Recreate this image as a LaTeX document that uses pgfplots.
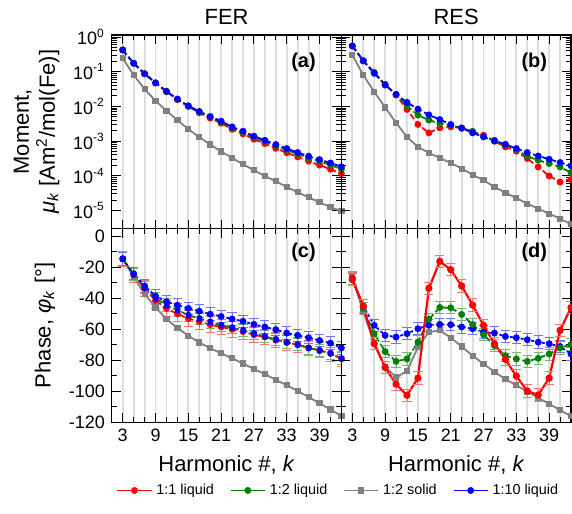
\documentclass[border=0pt]{standalone}
\usepackage{fontspec}
\setmainfont{Liberation Sans}
\usepackage{pgfplots}
\pgfplotsset{compat=1.18}
\usetikzlibrary{calc}
\definecolor{cred}{HTML}{FF0000}
\definecolor{cgreen}{HTML}{008000}
\definecolor{cgrey}{HTML}{808080}
\definecolor{cblue}{HTML}{0000FF}
\tikzset{plab/.style={font=\fontsize{10}{11}\selectfont\bfseries},
  ptitle/.style={font=\fontsize{11}{13}\selectfont, anchor=base, inner sep=0pt}}
\pgfplotsset{
  panel/.style={
    scale only axis, width=115pt, height=97pt,
    xmin=1, xmax=43,
    xtick={3,9,...,39},
    minor xtick={5,7,11,13,17,19,23,25,29,31,35,37,41},
    xmajorgrids, xminorgrids,
    major grid style={black!13, line width=0.9pt},
    minor grid style={black!13, line width=0.9pt},
    major tick length=4.5pt, minor tick length=2.5pt,
    tick style={black, line width=0.5pt},
    axis line style={line width=0.6pt},
    tick label style={font=\fontsize{9}{10}\selectfont},
    label style={font=\fontsize{11}{13}\selectfont},
    /pgf/number format/assume math mode=true,
  },
  toprow/.style={panel, ymin=3e-6, ymax=1.15,
    ytick={1e-5,1e-4,1e-3,1e-2,1e-1,1},
    xticklabels={}},
  botrow/.style={panel, ymin=-120, ymax=5,
    ytick={-120,-100,...,0}, minor y tick num=1,
    xlabel={Harmonic \#, \textit{k}}},
  sred/.style={color=cred, line width=0.9pt, mark=*, mark size=1.25pt, mark options={solid}},
  sgreen/.style={color=cgreen, line width=0.9pt, mark=*, mark size=1.25pt, mark options={solid}},
  sgrey/.style={color=cgrey, line width=0.9pt, mark=square*, mark size=1.1pt, mark options={solid}},
  sblue/.style={color=cblue, line width=0.9pt, mark=*, mark size=1.25pt, mark options={solid}},
  dsh/.style={dash pattern=on 3pt off 1.5pt},
  dtt/.style={dash pattern=on 1.5pt off 1.2pt},
  eb/.style 2 args={error bars/.cd, y dir=both, y fixed=#1,
    error bar style={color=#2!55, line width=0.5pt, solid},
    error mark options={rotate=90, color=#2!55, mark size=2.3pt, line width=0.5pt, solid}},
}
\begin{document}
\begin{tikzpicture}

% (a) FER moment
\begin{semilogyaxis}[toprow, name=a, at={(0,0)}, anchor=north west,
  yticklabels={10\textsuperscript{-5},10\textsuperscript{-4},10\textsuperscript{-3},10\textsuperscript{-2},10\textsuperscript{-1},10\textsuperscript{0}},
  ylabel={Moment,\\\textit{μ}\textsubscript{\textit{k}} [Am\textsuperscript{2}/mol(Fe)]},
  ylabel style={align=center}]
\addplot[sgrey] coordinates {(3,0.244) (5,0.0803) (7,0.0316) (9,0.0145) (11,0.00746) (13,0.00402) (15,0.00221) (17,0.0013) (19,0.000798) (21,0.0005) (23,0.000327) (25,0.000215) (27,0.000144) (29,9.86e-5) (31,6.93e-5) (33,4.74e-5) (35,3.33e-5) (37,2.39e-5) (39,1.71e-5) (41,1.25e-5) (43,9.5e-6)};
\addplot[sred, dsh] coordinates {(3,0.424) (5,0.175) (7,0.0875) (9,0.047) (11,0.0265) (13,0.0157) (15,0.00993) (17,0.00653) (19,0.00458) (21,0.00327) (23,0.00219) (25,0.00161) (27,0.00113) (29,0.000843) (31,0.000619) (33,0.000463) (35,0.000348) (37,0.000265) (39,0.000203) (41,0.000155) (43,0.000115)};
\addplot[sgreen, dsh] coordinates {(3,0.424) (5,0.175) (7,0.0875) (9,0.048) (11,0.0272) (13,0.0161) (15,0.0102) (17,0.00692) (19,0.00491) (21,0.00359) (23,0.00243) (25,0.0018) (27,0.00129) (29,0.00098) (31,0.000728) (33,0.000557) (35,0.000423) (37,0.000327) (39,0.000259) (41,0.000204) (43,0.000155)};
\addplot[sblue, dsh] coordinates {(3,0.424) (5,0.175) (7,0.0875) (9,0.048) (11,0.0272) (13,0.0163) (15,0.0104) (17,0.00716) (19,0.00514) (21,0.00376) (23,0.00257) (25,0.00193) (27,0.00139) (29,0.00106) (31,0.000798) (33,0.000611) (35,0.000469) (37,0.000366) (39,0.000294) (41,0.000234) (43,0.000182)};
\node[plab] at (rel axis cs:0.835,0.86) {(a)};
\end{semilogyaxis}

% (b) RES moment
\begin{semilogyaxis}[toprow, name=b, at={(a.north east)}, anchor=north west, yticklabels={}]
\addplot[sgrey] coordinates {(3,0.304) (5,0.0803) (7,0.0264) (9,0.00935) (11,0.00336) (13,0.00132) (15,0.000679) (17,0.000456) (19,0.000327) (21,0.000234) (23,0.000161) (25,0.000108) (27,7.41e-5) (29,4.74e-5) (31,3.27e-5) (33,2.28e-5) (35,1.57e-5) (37,1.13e-5) (39,8.08e-6) (41,5.8e-6) (43,4.0e-6)};
\addplot[sred, dsh] coordinates {(3,0.553) (5,0.21) (7,0.095) (9,0.043) (11,0.0212) (13,0.00819) (15,0.00302) (17,0.00173) (19,0.00241) (21,0.00257) (23,0.00241) (25,0.00185) (27,0.00148) (29,0.000993) (31,0.000679) (33,0.000511) (35,0.000314) (37,0.000179) (39,0.000099) (41,0.000066) (43,0.000079)};
\addplot[sgreen, dsh] coordinates {(3,0.553) (5,0.21) (7,0.095) (9,0.043) (11,0.0222) (13,0.0102) (15,0.00561) (17,0.00402) (19,0.00323) (21,0.00288) (23,0.00236) (25,0.00193) (27,0.00139) (29,0.00106) (31,0.00076) (33,0.000571) (35,0.000366) (37,0.000281) (39,0.000225) (41,0.000179) (43,0.000124)};
\addplot[sblue, dsh] coordinates {(3,0.553) (5,0.204) (7,0.09) (9,0.0413) (11,0.0222) (13,0.0131) (15,0.00836) (17,0.00571) (19,0.0042) (21,0.00302) (23,0.00236) (25,0.00173) (27,0.00132) (29,0.00101) (31,0.000813) (33,0.000611) (35,0.000469) (37,0.000373) (39,0.0003) (41,0.000241) (43,0.000195)};
\node[plab] at (rel axis cs:0.84,0.86) {(b)};
\end{semilogyaxis}

% (c) FER phase
\begin{axis}[botrow, name=c, at={(a.south west)}, anchor=north west,
  ylabel={Phase, \textit{φ}\textsubscript{\textit{k}} [°]}]
\addplot[sgrey] coordinates {(3,-14.5) (5,-26.3) (7,-37.2) (9,-45.9) (11,-53.3) (13,-59.2) (15,-64.1) (17,-68.5) (19,-72.2) (21,-75.5) (23,-78.7) (25,-82) (27,-85.7) (29,-88.9) (31,-92.6) (33,-96.1) (35,-99.8) (37,-103.7) (39,-107.8) (41,-111.7) (43,-116)};
\addplot[sred, dsh, eb={5}{cred}] coordinates {(3,-14.5) (5,-25) (7,-33.5) (9,-41.5) (11,-46.5) (13,-50) (15,-53) (17,-55) (19,-57) (21,-58.5) (23,-60) (25,-61.5) (27,-63.5) (29,-65) (31,-67) (33,-68.5) (35,-70) (37,-72) (39,-73.5) (41,-75.5) (43,-79)};
\addplot[sgreen, dsh, mark options={fill=cblue, draw=cblue}, eb={4}{cgreen}] coordinates {(3,-14.5) (5,-24.5) (7,-33) (9,-40) (11,-44.4) (13,-47.6) (15,-50.9) (17,-53) (19,-55.2) (21,-57.4) (23,-58.9) (25,-60.7) (27,-62.8) (29,-64.6) (31,-66.5) (33,-68.3) (35,-69.8) (37,-72) (39,-73.7) (41,-75.5) (43,-78.9)};
\addplot[sblue, dtt, eb={4}{cblue}] coordinates {(3,-14.5) (5,-24.1) (7,-32) (9,-38.5) (11,-42.2) (13,-44.4) (15,-46.5) (17,-48.3) (19,-50.2) (21,-51.7) (23,-53.3) (25,-54.8) (27,-56.8) (29,-58.5) (31,-60.2) (33,-62.4) (35,-63.9) (37,-65.4) (39,-67.2) (41,-68.9) (43,-72)};
\node[plab] at (rel axis cs:0.835,0.88) {(c)};
\end{axis}

% (d) RES phase
\begin{axis}[botrow, name=d, at={(c.north east)}, anchor=north west, yticklabels={},
  legend style={at={(-0.009,-0.352)}, anchor=center, draw=none, fill=none,
    legend columns=4, font=\fontsize{7.2}{8}\selectfont,
    /tikz/every even column/.append style={column sep=6pt}}]
\addlegendimage{sred}\addlegendentry{1:1 liquid}
\addlegendimage{sgreen}\addlegendentry{1:2 liquid}
\addlegendimage{sgrey}\addlegendentry{1:2 solid}
\addlegendimage{sblue}\addlegendentry{1:10 liquid}
\addplot[sgrey, forget plot] coordinates {(3,-26.3) (5,-48.7) (7,-68.9) (9,-84.1) (11,-91.1) (13,-86.8) (15,-71.6) (17,-61.8) (19,-60.7) (21,-65.4) (23,-71.1) (25,-77) (27,-82.4) (29,-87.4) (31,-92.2) (33,-96.1) (35,-100.3) (37,-104.2) (39,-108.1) (41,-112.2) (43,-116.1)};
\addplot[sblue, dtt, forget plot, eb={4}{cblue}] coordinates {(3,-28) (5,-45) (7,-57.4) (9,-63.9) (11,-65) (13,-62.8) (15,-59.6) (17,-57.4) (19,-56.8) (21,-57) (23,-58.5) (25,-59.6) (27,-61.8) (29,-62.4) (31,-64.6) (33,-65.4) (35,-66.7) (37,-68.3) (39,-69.3) (41,-71.1) (43,-75.9)};
\addplot[sgreen, dsh, forget plot, eb={4}{cgreen}] coordinates {(3,-26.9) (5,-46.5) (7,-62.8) (9,-74.4) (11,-80.7) (13,-79.1) (15,-68.3) (17,-53.5) (19,-45.9) (21,-46.1) (23,-50.4) (25,-56.9) (27,-63.5) (29,-70.5) (31,-77) (33,-79.1) (35,-80.7) (37,-78.7) (39,-75.9) (41,-72) (43,-69.8)};
\addplot[sred, line width=1.1pt, forget plot, eb={4}{cred}] coordinates {(3,-27.6) (5,-45) (7,-69.3) (9,-84.6) (11,-95.4) (13,-102.6) (15,-91.5) (17,-33.5) (19,-16.1) (21,-21.5) (23,-32) (25,-44.4) (27,-57.4) (29,-69.3) (31,-79.4) (33,-90.2) (35,-99.8) (37,-102.4) (39,-91.5) (41,-60.7) (43,-45.9)};
\node[plab] at (rel axis cs:0.84,0.88) {(d)};
\end{axis}

\node[ptitle] at ($(a.north)+(0,5pt)$) {FER};
\node[ptitle] at ($(b.north)+(0,5pt)$) {RES};

\pgfresetboundingbox
\path ($(a.north west)+(-56pt,17.5pt)$) rectangle ($(d.south east)+(0.5pt,-45.5pt)$);
\end{tikzpicture}
\end{document}
